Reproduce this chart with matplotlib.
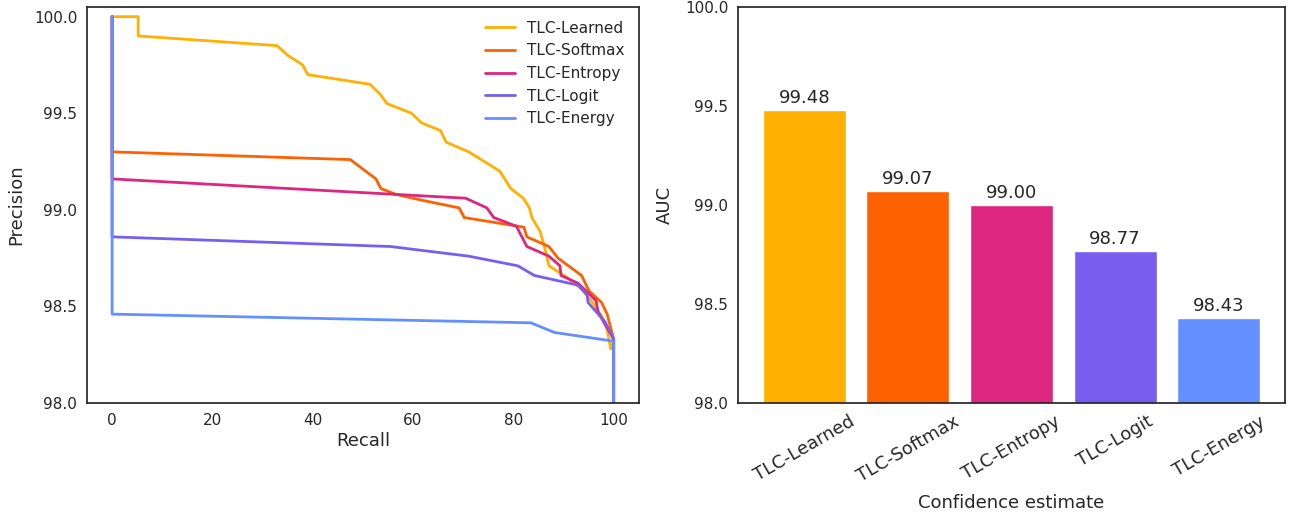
import numpy as np
import matplotlib.pyplot as plt
import seaborn as sns

sns.set_style("white")
plt.rcParams['font.family'] = ['DejaVu Sans']
plt.rcParams['text.color'] = '#262626'
plt.rcParams['axes.labelcolor'] = '#262626'
plt.rcParams['xtick.color'] = '#262626'
plt.rcParams['ytick.color'] = '#262626'

methods = ["TLC-Learned", "TLC-Softmax", "TLC-Entropy", "TLC-Logit", "TLC-Energy"]
colors = ["#FFB000", "#FE6100", "#DC267F", "#785EF0", "#648FFF"]
auc = [99.48, 99.07, 99.00, 98.77, 98.43]

# precision-recall curves (recall %, precision %)
rec_learned = [0, 5.2, 5.2, 32.9, 35.0, 38.0, 39.0, 51.4, 53.4, 54.8, 59.7, 61.7, 65.5, 66.6,
               71.1, 77.3, 79.5, 82.0, 83.2, 83.7, 85.3, 86.2, 87.1, 90.7, 93.6, 95.8, 97.6,
               98.7, 99.4, 100, 100]
prec_learned = [100.0, 100.0, 99.90, 99.85, 99.80, 99.75, 99.70, 99.65, 99.60, 99.55, 99.50,
                99.45, 99.41, 99.35, 99.30, 99.20, 99.11, 99.06, 99.01, 98.96, 98.89, 98.81,
                98.71, 98.65, 98.59, 98.52, 98.45, 98.38, 98.28, 98.32, 97.0]

rec_softmax = [0, 0, 47.5, 52.6, 53.6, 56.6, 61.7, 69.2, 70.2, 82.1, 82.7, 87.1, 88.9, 93.6,
               95.1, 97.6, 98.7, 100, 100]
prec_softmax = [100.0, 99.30, 99.26, 99.16, 99.11, 99.08, 99.05, 99.01, 98.96, 98.91, 98.86,
                98.81, 98.75, 98.66, 98.58, 98.52, 98.46, 98.33, 97.0]

rec_entropy = [0, 0, 70.5, 74.7, 76.1, 80.6, 82.7, 87.1, 89.3, 89.5, 92.9, 96.5, 96.9, 100, 100]
prec_entropy = [100.0, 99.16, 99.06, 99.01, 98.96, 98.915, 98.81, 98.76, 98.71, 98.66, 98.62,
                98.53, 98.47, 98.33, 97.0]

rec_logit = [0, 0, 55.5, 71.1, 80.9, 84.2, 92.9, 94.7, 94.9, 98.3, 100, 100]
prec_logit = [100.0, 98.86, 98.81, 98.76, 98.71, 98.66, 98.61, 98.56, 98.52, 98.42, 98.33, 97.0]

rec_energy = [0, 0, 83.5, 88.2, 100, 100]
prec_energy = [100.0, 98.46, 98.415, 98.365, 98.32, 97.0]

recalls = [rec_learned, rec_softmax, rec_entropy, rec_logit, rec_energy]
precisions = [prec_learned, prec_softmax, prec_entropy, prec_logit, prec_energy]

fig = plt.figure(figsize=(12.93, 5.14), dpi=100)
ax1 = fig.add_axes([0.0673, 0.216, 0.4267, 0.7704])
ax2 = fig.add_axes([0.5708, 0.216, 0.4230, 0.7704])

for name, c, r, p in zip(methods, colors, recalls, precisions):
    ax1.plot(r, p, color=c, lw=2, label=name)
ax1.set_xlim(-5, 105)
ax1.set_ylim(98.0, 100.05)
ax1.set_xticks([0, 20, 40, 60, 80, 100])
ax1.set_yticks([98.0, 98.5, 99.0, 99.5, 100.0])
ax1.set_yticklabels(["98.0", "98.5", "99.0", "99.5", "100.0"])
ax1.set_xlabel("Recall", fontsize=13, labelpad=3)
ax1.set_ylabel("Precision", fontsize=13, labelpad=6)
ax1.tick_params(labelsize=11, length=0, pad=7)
ax1.legend(loc="upper right", frameon=False, fontsize=11)

x = np.arange(len(methods))
bars = ax2.bar(x, auc, width=0.8, color=colors)
ax2.set_ylim(98.0, 100.0)
ax2.set_yticks([98.0, 98.5, 99.0, 99.5, 100.0])
ax2.set_yticklabels(["98.0", "98.5", "99.0", "99.5", "100.0"])
ax2.set_xticks(x)
ax2.set_xticklabels(methods, rotation=30, ha="center", fontsize=13)
ax2.tick_params(axis="y", labelsize=11, length=0, pad=7)
ax2.tick_params(axis="x", length=0, pad=7)
ax2.set_xlabel("Confidence estimate", fontsize=13, labelpad=6)
ax2.set_ylabel("AUC", fontsize=13, labelpad=8)
for b, v in zip(bars, auc):
    ax2.text(b.get_x() + b.get_width() / 2, v + 0.015, f"{v:.2f}", ha="center", va="bottom",
             fontsize=13)

for ax in (ax1, ax2):
    for s in ax.spines.values():
        s.set_color("#262626")
        s.set_linewidth(1.25)

fig.savefig("out.png", dpi=100)
